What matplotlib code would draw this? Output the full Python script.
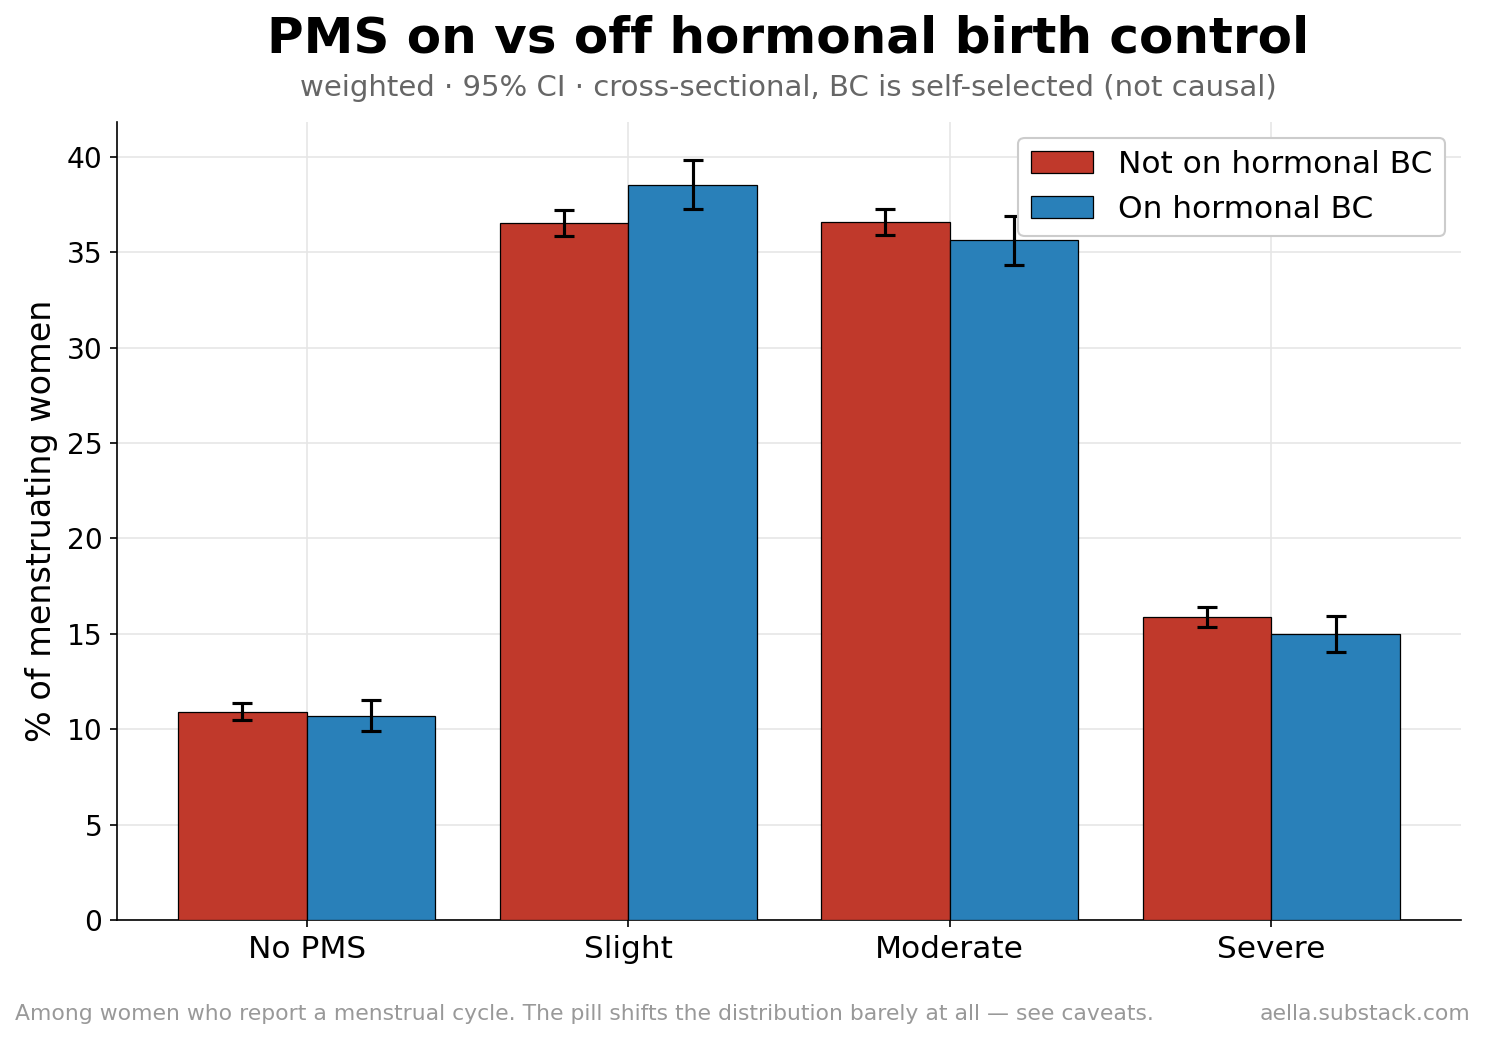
import numpy as np
import matplotlib
matplotlib.use("Agg")
import matplotlib.pyplot as plt

# data
categories = ["No PMS", "Slight", "Moderate", "Severe"]
off_bc = [10.92, 36.54, 36.59, 15.91]
off_lo = [10.50, 35.85, 35.90, 15.38]
off_hi = [11.39, 37.22, 37.27, 16.43]
on_bc = [10.71, 38.53, 35.64, 15.01]
on_lo = [9.92, 37.27, 34.33, 14.07]
on_hi = [11.55, 39.84, 36.90, 15.96]

red = "#c0392b"
blue = "#2980b9"

fig = plt.figure(figsize=(9.9, 6.9267), dpi=150)
ax = fig.add_axes([0.0788, 0.1145, 0.9050, 0.7681])

x = np.arange(len(categories))
w = 0.4
off_err = [np.array(off_bc) - np.array(off_lo), np.array(off_hi) - np.array(off_bc)]
on_err = [np.array(on_bc) - np.array(on_lo), np.array(on_hi) - np.array(on_bc)]

ax.bar(x - w / 2, off_bc, w, color=red, edgecolor="black", linewidth=0.6,
       yerr=off_err, capsize=5, error_kw=dict(elinewidth=1.5, capthick=1.5, ecolor="black"),
       label="Not on hormonal BC", zorder=3)
ax.bar(x + w / 2, on_bc, w, color=blue, edgecolor="black", linewidth=0.6,
       yerr=on_err, capsize=5, error_kw=dict(elinewidth=1.5, capthick=1.5, ecolor="black"),
       label="On hormonal BC", zorder=3)

ax.set_xticks(x)
ax.set_xticklabels(categories, fontsize=15)
ax.tick_params(axis="y", labelsize=13.5)
ax.set_ylabel("% of menstruating women", fontsize=16)
ax.grid(True, color="#e6e6e6", linewidth=0.8, zorder=0)
ax.set_axisbelow(True)
ax.spines["top"].set_visible(False)
ax.spines["right"].set_visible(False)
ax.legend(fontsize=15, loc="upper right", framealpha=1, edgecolor="#cccccc")

fig.text(0.531, 0.963, "PMS on vs off hormonal birth control", ha="center", va="center",
         fontsize=24, fontweight="bold")
fig.text(0.531, 0.915, "weighted · 95% CI · cross-sectional, BC is self-selected (not causal)",
         ha="center", va="center", fontsize=14, color="#666666")
fig.text(0.01, 0.024, "Among women who report a menstrual cycle. The pill shifts the distribution barely at all — see caveats.",
         ha="left", va="center", fontsize=10.5, color="#999999")
fig.text(0.99, 0.024, "aella.substack.com", ha="right", va="center", fontsize=10.5, color="#999999")

fig.savefig("out.png", dpi=150)
